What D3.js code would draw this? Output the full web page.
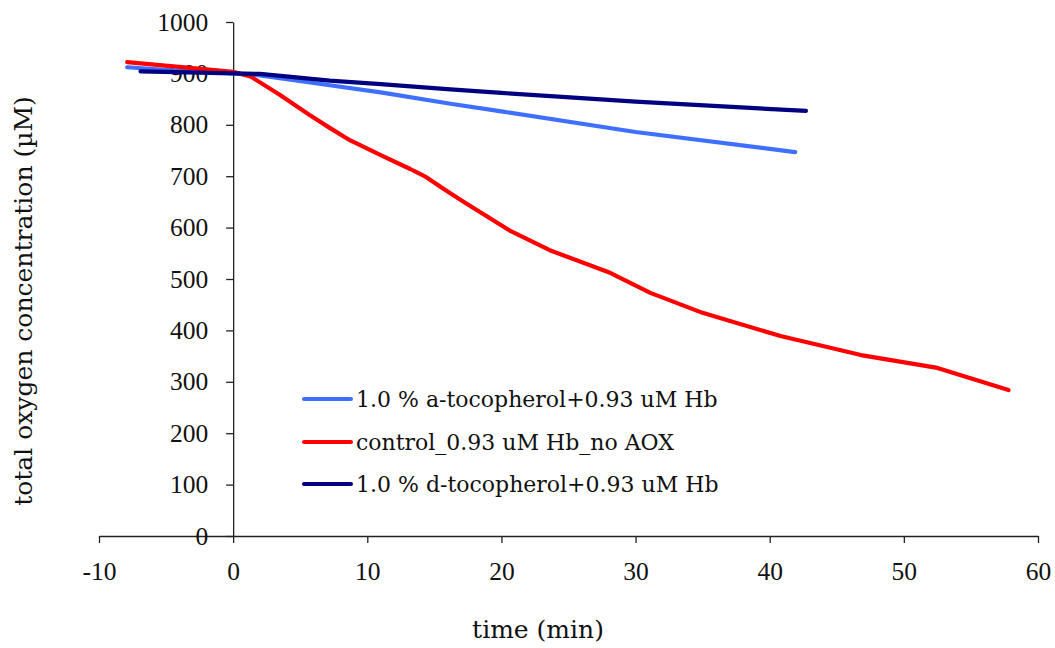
<!DOCTYPE html>
<html>
<head>
<meta charset="utf-8">
<script src="https://cdn.jsdelivr.net/npm/d3@7"></script>
<style>
  html, body { margin: 0; padding: 0; background: #fff; }
  svg { display: block; }
</style>
</head>
<body>
<svg id="chart" width="1055" height="648"></svg>
<script>
// ---- data ----
const seriesNames = [
  "1.0 % a-tocopherol+0.93 uM Hb",
  "control_0.93 uM Hb_no AOX",
  "1.0 % d-tocopherol+0.93 uM Hb"
];
const seriesColors = ["#3F6FFF", "#FF0000", "#000080"];

const aTocTime = [-7.9, -4, 0, 2, 7.2, 11, 16.2, 20, 30, 41.9];
const aTocO2   = [912, 905, 900, 896, 877, 863, 841, 826, 786, 747];

const controlTime = [-7.9, 0, 1.3, 3.5, 5.7, 7.2, 8.7, 11.0, 13.2, 14.4, 15.7, 17.2, 20.7, 23.6, 28.1, 31.1, 34.8, 40.8, 46.8, 52.5, 57.8];
const controlO2   = [922, 903, 894, 858, 819, 794, 770, 741, 714, 698, 675, 650, 593, 556, 512, 473, 436, 389, 352, 327, 284];

const dTocTime = [-6.9, 0, 2, 7.2, 11, 16.2, 20, 30, 42.7];
const dTocO2   = [904, 900, 899, 886, 879, 869, 862, 845, 827];

const xTicks = [-10, 0, 10, 20, 30, 40, 50, 60];
const yTicks = [0, 100, 200, 300, 400, 500, 600, 700, 800, 900, 1000];

const xTitle = "time (min)";
const yTitle = "total oxygen concentration (\u00B5M)";

// ---- chart ----
const TICKFONT = "'Liberation Serif', serif";
const TEXTFONT = "'DejaVu Serif', serif";
const svg = d3.select("#chart");
const x = d3.scaleLinear().domain([-10, 60]).range([99, 1038]);
const y = d3.scaleLinear().domain([0, 1000]).range([536, 22]);

const series = [
  {name: seriesNames[0], color: seriesColors[0], t: aTocTime, v: aTocO2},
  {name: seriesNames[1], color: seriesColors[1], t: controlTime, v: controlO2},
  {name: seriesNames[2], color: seriesColors[2], t: dTocTime, v: dTocO2}
];

const xAxis = svg.append("g")
  .attr("transform", `translate(0,${y(0)})`)
  .call(d3.axisBottom(x).tickValues(xTicks).tickSize(7).tickPadding(19).tickSizeOuter(0).tickFormat(d => String(d)));
const yAxis = svg.append("g")
  .attr("transform", `translate(${x(0)},0)`)
  .call(d3.axisLeft(y).tickValues(yTicks).tickSize(7).tickPadding(18).tickSizeOuter(0).tickFormat(d => String(d)));

[xAxis, yAxis].forEach(g => {
  g.attr("font-family", null).attr("font-size", null);
  g.select(".domain").attr("stroke", "#222").attr("stroke-width", 1.3);
  g.selectAll(".tick line").attr("stroke", "#222").attr("stroke-width", 1.3);
  g.selectAll(".tick text").style("font-family", TICKFONT).style("font-size", "25.5px").attr("fill", "#111");
});

const line = d3.line().x(d => x(d[0])).y(d => y(d[1]));
series.forEach(s => {
  const pts = s.t.map((t, i) => [t, s.v[i]]);
  svg.append("path")
    .datum(pts)
    .attr("d", line)
    .attr("fill", "none")
    .attr("stroke", s.color)
    .attr("stroke-width", 4.2)
    .attr("stroke-linecap", "round")
    .attr("stroke-linejoin", "round");
});

const legendY = [399, 442, 484];
series.forEach((s, i) => {
  svg.append("line")
    .attr("x1", 304).attr("x2", 351)
    .attr("y1", legendY[i]).attr("y2", legendY[i])
    .attr("stroke", s.color).attr("stroke-width", 4).attr("stroke-linecap", "round");
  svg.append("text")
    .attr("x", 356).attr("y", legendY[i] + 8)
    .style("font-family", TEXTFONT)
    .style("font-size", "22px")
    .attr("fill", "#111")
    .text(s.name);
});

svg.append("text")
  .attr("x", 538).attr("y", 638)
  .attr("text-anchor", "middle")
  .style("font-family", TEXTFONT)
  .style("font-size", "25px")
  .attr("fill", "#111")
  .text(xTitle);

svg.append("text")
  .attr("transform", "translate(32,301) rotate(-90)")
  .attr("text-anchor", "middle")
  .style("font-family", TEXTFONT)
  .style("font-size", "25px")
  .attr("fill", "#111")
  .text(yTitle);
</script>
</body>
</html>
